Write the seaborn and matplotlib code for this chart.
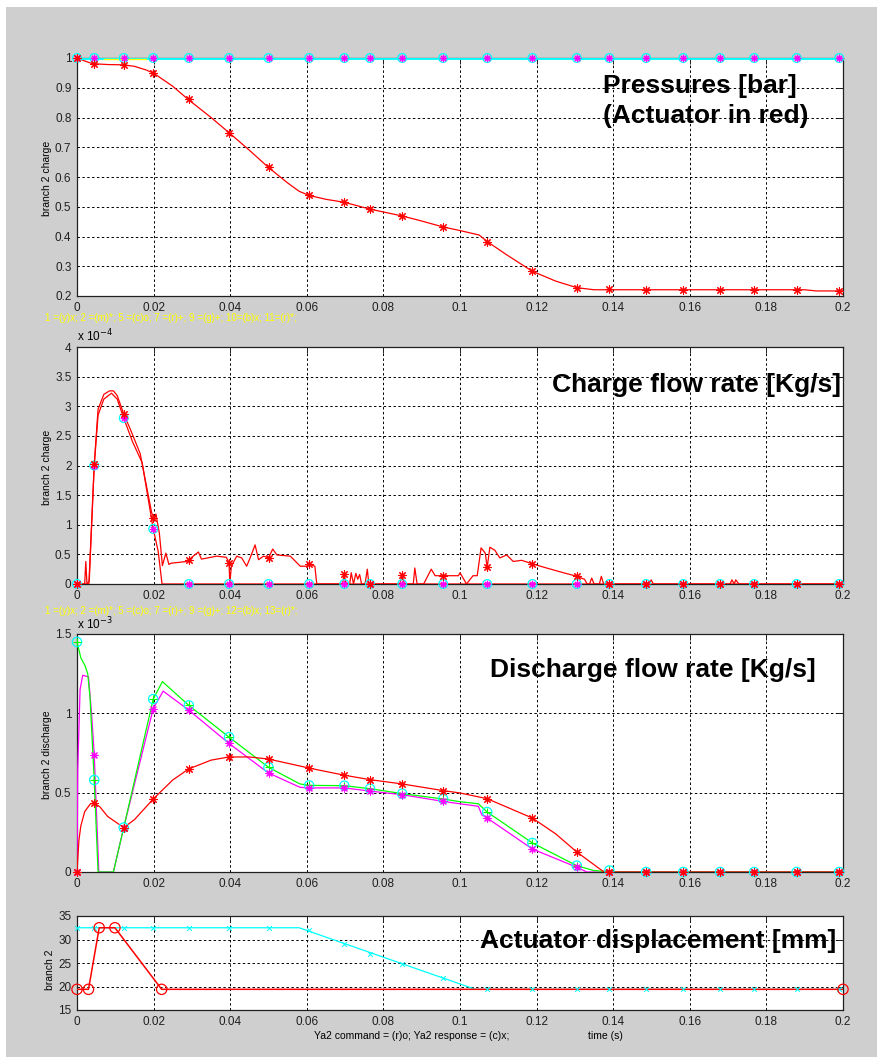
import matplotlib
matplotlib.use("Agg")
import matplotlib.pyplot as plt
from matplotlib.patches import Rectangle
import seaborn as sns

# sample instants where markers are drawn
t_mark = [0, 0.0045, 0.0122, 0.0199, 0.0292, 0.0397, 0.0500, 0.0606, 0.0698, 0.0765, 0.0849,
          0.0956, 0.1071, 0.1189, 0.1305, 0.139, 0.1486, 0.1583, 0.1679, 0.1768, 0.1879, 0.199]

# 1. pressures [bar]
p_act_t = [0, 0.002, 0.004, 0.008, 0.012, 0.015, 0.018, 0.02, 0.025, 0.029, 0.035, 0.0397, 0.045,
           0.05, 0.055, 0.058, 0.0606, 0.065, 0.0698, 0.0765, 0.0849, 0.09, 0.0956, 0.1, 0.105,
           0.1071, 0.112, 0.1189, 0.125, 0.1305, 0.135, 0.14, 0.19, 0.193, 0.2]
p_act = [1.0, 0.99, 0.981, 0.978, 0.977, 0.972, 0.96, 0.949, 0.905, 0.861, 0.8, 0.749, 0.69,
         0.632, 0.58, 0.552, 0.538, 0.525, 0.515, 0.492, 0.469, 0.452, 0.432, 0.42, 0.405,
         0.383, 0.34, 0.283, 0.25, 0.228, 0.221, 0.221, 0.221, 0.217, 0.217]
p_act_mark = [1.0, 0.98, 0.977, 0.949, 0.861, 0.749, 0.632, 0.538, 0.515, 0.492, 0.469,
              0.432, 0.383, 0.283, 0.228, 0.222, 0.221, 0.221, 0.221, 0.221, 0.221, 0.217]
p_sup_t = [0, 0.2]
p_sup = [1.0, 1.0]
p_sup_mark = [1.0] * len(t_mark)

# 2. charge flow rate [x1e-4 kg/s]
ch_a_t = [0, 0.0025, 0.0032, 0.0045, 0.0055, 0.007, 0.0085, 0.0095, 0.0105, 0.0122, 0.014, 0.0165,
          0.018, 0.0195, 0.0201, 0.0206, 0.0215, 0.0223, 0.0232, 0.024, 0.0245, 0.0286, 0.0292,
          0.0317, 0.0325, 0.0365, 0.039, 0.0397, 0.0399, 0.0403, 0.0417, 0.043, 0.0443, 0.0452,
          0.0465, 0.0474, 0.0487, 0.05, 0.0511, 0.0522, 0.0557, 0.0583, 0.06, 0.0606, 0.0621,
          0.0626, 0.0693, 0.0698, 0.0702, 0.0712, 0.0716, 0.0722, 0.0728, 0.0733, 0.0738, 0.0743,
          0.0752, 0.0758, 0.0762, 0.0843, 0.0849, 0.0855, 0.0878, 0.0882, 0.0888, 0.0905, 0.0925,
          0.0935, 0.0956, 0.0996, 0.1, 0.1017, 0.1034, 0.1045, 0.1055, 0.1066, 0.1071, 0.1078,
          0.1091, 0.1104, 0.1122, 0.1139, 0.1161, 0.1189, 0.1226, 0.127, 0.1305, 0.1325, 0.1332,
          0.1338, 0.1344, 0.135, 0.1364, 0.1369, 0.1375, 0.1495, 0.1499, 0.1505, 0.1705, 0.171,
          0.1716, 0.172, 0.1728, 0.2]
ch_a = [0, 0, 0.05, 2.02, 2.95, 3.2, 3.26, 3.26, 3.18, 2.87, 2.6, 2.2,
        1.7, 1.2, 1.12, 1.18, 0.86, 0.31, 0.52, 0.33, 0.35, 0.38, 0.41,
        0.54, 0.42, 0.47, 0.45, 0.36, 0.0, 0.3, 0.47, 0.44, 0.3, 0.44,
        0.66, 0.41, 0.47, 0.44, 0.59, 0.49, 0.47, 0.3, 0.3, 0.34, 0.3,
        0.0, 0.0, 0.17, 0.0, 0.0, 0.19, 0.0, 0.18, 0.08, 0.16, 0.0,
        0.0, 0.25, 0.0, 0.0, 0.15, 0.0, 0.0, 0.27, 0.0, 0.0, 0.25,
        0.14, 0.14, 0.14, 0.19, 0.0, 0.14, 0.14, 0.61, 0.52, 0.28, 0.62,
        0.57, 0.44, 0.49, 0.38, 0.4, 0.34, 0.27, 0.19, 0.13, 0.08, 0.0,
        0.0, 0.1, 0.0, 0.0, 0.13, 0.0, 0.0, 0.07, 0.0, 0.0, 0.07,
        0.0, 0.07, 0.0, 0.0]
ch_a_mark = [0, 2.02, 2.87, 1.12, 0.41, 0.36, 0.44, 0.34, 0.17, 0, 0.15,
             0.14, 0.28, 0.34, 0.13, 0, 0, 0, 0, 0, 0, 0]
ch_b_t = [0, 0.002, 0.0023, 0.0026, 0.0031, 0.0045, 0.0055, 0.007, 0.009, 0.0105, 0.0122, 0.0145,
          0.017, 0.0199, 0.0212, 0.0222, 0.2]
ch_b = [0, 0, 0.38, 0, 0, 2.0, 2.85, 3.12, 3.22, 3.12, 2.8, 2.4,
        2.05, 0.93, 0.55, 0.0, 0.0]
ch_b_mark = [0, 2.0, 2.8, 0.93, 0, 0, 0, 0, 0, 0, 0, 0, 0, 0, 0, 0, 0, 0, 0, 0, 0, 0]

# 3. discharge flow rate [x1e-3 kg/s]
dg_t = [0, 0.001, 0.0021, 0.0028, 0.0034, 0.0045, 0.0055, 0.0095, 0.0122, 0.0199, 0.0223, 0.0292,
        0.0397, 0.05, 0.0582, 0.0606, 0.0698, 0.0765, 0.0849, 0.0956, 0.1, 0.1048, 0.1071, 0.1189,
        0.1305, 0.1348, 0.139, 0.2]
dg = [1.45, 1.35, 1.30, 1.25, 1.1, 0.58, 0.0, 0.0, 0.28, 1.09, 1.2, 1.05,
      0.85, 0.66, 0.555, 0.546, 0.544, 0.525, 0.494, 0.46, 0.443, 0.43, 0.378, 0.183,
      0.04, 0.01, 0.0, 0.0]
dg_mark = [1.45, 0.58, 0.28, 1.09, 1.05, 0.85, 0.66, 0.546, 0.544, 0.525, 0.494,
           0.46, 0.378, 0.183, 0.04, 0.01, 0, 0, 0, 0, 0, 0]
dm_t = [0, 0.0002, 0.0008, 0.0015, 0.003, 0.0038, 0.0045, 0.0057, 0.0095, 0.0122, 0.0199, 0.0225,
        0.0292, 0.0397, 0.05, 0.0582, 0.0606, 0.0698, 0.0765, 0.0849, 0.0956, 0.1, 0.1048, 0.1057,
        0.1071, 0.1189, 0.1305, 0.1331, 0.2]
dm = [0.0, 0.65, 1.15, 1.24, 1.23, 1.0, 0.74, 0.0, 0.0, 0.28, 1.03, 1.14,
      1.02, 0.81, 0.624, 0.534, 0.53, 0.53, 0.51, 0.487, 0.445, 0.43, 0.414, 0.36,
      0.34, 0.145, 0.03, 0.0, 0.0]
dm_mark = [0, 0.74, 0.28, 1.03, 1.02, 0.81, 0.624, 0.53, 0.53, 0.51, 0.487,
           0.445, 0.34, 0.145, 0.03, 0, 0, 0, 0, 0, 0, 0]
dr_t = [0, 0.0005, 0.001, 0.002, 0.0035, 0.0045, 0.006, 0.008, 0.0122, 0.015, 0.0199, 0.025,
        0.0292, 0.035, 0.0397, 0.045, 0.05, 0.0606, 0.0698, 0.0765, 0.0849, 0.0956, 0.1, 0.1071,
        0.1189, 0.125, 0.1305, 0.1373, 0.14, 0.2]
dr = [0, 0.2, 0.29, 0.38, 0.43, 0.435, 0.41, 0.35, 0.28, 0.33, 0.46, 0.58,
      0.65, 0.705, 0.725, 0.725, 0.712, 0.655, 0.61, 0.582, 0.555, 0.513, 0.498, 0.462,
      0.34, 0.24, 0.126, 0.005, 0.0, 0.0]
dr_mark = [0, 0.435, 0.28, 0.46, 0.65, 0.725, 0.712, 0.655, 0.61, 0.582, 0.555,
           0.513, 0.462, 0.34, 0.126, 0, 0, 0, 0, 0, 0, 0]

# 4. actuator displacement [mm]
cmd_t = [0, 0.0030, 0.0058, 0.0099, 0.0221, 0.2]
cmd = [19.4, 19.4, 32.5, 32.5, 19.4, 19.4]
resp_t = [0, 0.058, 0.104, 0.2]
resp = [32.5, 32.5, 19.4, 19.4]
resp_mark = [32.5, 32.5, 32.5, 32.5, 32.5, 32.5, 32.5, 32.0, 29.0, 27.0, 24.8,
             21.8, 19.4, 19.4, 19.4, 19.4, 19.4, 19.4, 19.4, 19.4, 19.4, 19.4]

xticks = [0, 0.02, 0.04, 0.06, 0.08, 0.1, 0.12, 0.14, 0.16, 0.18, 0.2]
xticklabels = ["0", "0.02", "0.04", "0.06", "0.08", "0.1", "0.12", "0.14", "0.16", "0.18", "0.2"]

sns.set_style("white")
plt.rcParams["font.family"] = ["Liberation Sans", "DejaVu Sans"]
plt.rcParams["text.color"] = "black"

W, H = 877, 1057
fig = plt.figure(figsize=(W / 100, H / 100), dpi=100)
fig.patch.set_facecolor("white")
fig.patches.append(Rectangle((6 / W, 0), 1, 1 - 7 / H, transform=fig.transFigure,
                             facecolor="#cfcfcf", edgecolor="none", zorder=-10))


def fx(px):
    return px / W


def fy(py):
    return 1 - py / H


def make_ax(top, bottom):
    ax = fig.add_axes([fx(77), fy(bottom), (843 - 77) / W, (bottom - top) / H])
    ax.set_facecolor("white")
    for s in ax.spines.values():
        s.set_visible(True)
        s.set_color("#202020")
        s.set_linewidth(0.9)
    ax.grid(True, color="black", linestyle=(0, (2.5, 2.5)), linewidth=0.7)
    ax.set_axisbelow(True)
    ax.tick_params(direction="in", length=4, width=0.7, labelsize=8.5, colors="#202020",
                   top=True, right=True, pad=4)
    ax.set_xlim(0, 0.2)
    ax.set_xticks(xticks)
    ax.set_xticklabels(xticklabels)
    return ax


def line(ax, x, y, color, lw=0.9):
    sns.lineplot(x=x, y=y, ax=ax, color=color, lw=lw, sort=False, estimator=None, zorder=3)


def marks(ax, x, y, color, marker, s=30, lw=0.8):
    sns.scatterplot(x=x, y=y, ax=ax, color=color, marker=marker, s=s, linewidth=lw,
                    zorder=4, clip_on=False)


def rings(ax, x, y, color, s=40, lw=0.9):
    sns.scatterplot(x=x, y=y, ax=ax, marker="o", s=s, facecolor="none", edgecolor=color,
                    linewidth=lw, zorder=4, clip_on=False)


star = (8, 2, 0)
title_kw = dict(fontsize=19, fontweight="bold", ha="left", va="baseline", color="black")
small_kw = dict(fontsize=7.5, color="black")
legend_kw = dict(color="yellow", fontsize=7, ha="left", va="center")

# ---- panel 1
ax1 = make_ax(58, 296)
line(ax1, p_act_t, p_act, "red")
line(ax1, p_sup_t, p_sup, "cyan", lw=2)
line(ax1, [0.007, 0.018], [0.998, 0.998], "yellow", lw=1)
rings(ax1, t_mark, p_sup_mark, "cyan")
marks(ax1, t_mark, p_sup_mark, "magenta", star, s=22)
marks(ax1, t_mark, p_act_mark, "red", star)
ax1.set_ylim(0.2, 1)
ax1.set_yticks([0.2, 0.3, 0.4, 0.5, 0.6, 0.7, 0.8, 0.9, 1.0])
ax1.set_yticklabels(["0.2", "0.3", "0.4", "0.5", "0.6", "0.7", "0.8", "0.9", "1"])
fig.text(fx(603), fy(93), "Pressures [bar]", **title_kw)
fig.text(fx(603), fy(123), "(Actuator in red)", **title_kw)
fig.text(fx(47), fy(178), "branch 2 charge", rotation=90, ha="center", va="center", **small_kw)
fig.text(fx(45), fy(318), "1 =(y)x; 2 =(m)*; 5 =(c)o; 7 =(r)+; 9 =(g)+; 10=(b)x; 11=(r)*;", **legend_kw)

# ---- panel 2
ax2 = make_ax(347, 584)
line(ax2, ch_b_t, ch_b, "red")
line(ax2, ch_a_t, ch_a, "red")
rings(ax2, t_mark, ch_b_mark, "cyan")
marks(ax2, t_mark, ch_b_mark, "magenta", star, s=22)
marks(ax2, t_mark, ch_a_mark, "red", star)
ax2.set_ylim(0, 4)
ax2.set_yticks([0, 0.5, 1, 1.5, 2, 2.5, 3, 3.5, 4])
ax2.set_yticklabels(["0", "0.5", "1", "1.5", "2", "2.5", "3", "3.5", "4"])
fig.text(fx(552), fy(392), "Charge flow rate [Kg/s]", **title_kw)
fig.text(fx(47), fy(467), "branch 2 charge", rotation=90, ha="center", va="center", **small_kw)
fig.text(fx(77), fy(341), r"x 10$^{-4}$", fontsize=8.5, ha="left", va="baseline", color="black")

# ---- panel 3
ax3 = make_ax(634, 872)
line(ax3, dm_t, dm, "magenta")
line(ax3, dg_t, dg, "lime")
line(ax3, dr_t, dr, "red")
rings(ax3, t_mark, dg_mark, "cyan", s=45)
marks(ax3, t_mark, dg_mark, "lime", "+", s=40)
marks(ax3, t_mark, dm_mark, "magenta", star, s=26)
marks(ax3, t_mark, dr_mark, "red", star)
ax3.set_ylim(0, 1.5)
ax3.set_yticks([0, 0.5, 1, 1.5])
ax3.set_yticklabels(["0", "0.5", "1", "1.5"])
fig.text(fx(490), fy(677), "Discharge flow rate [Kg/s]", **title_kw)
fig.text(fx(47), fy(755), "branch 2 discharge", rotation=90, ha="center", va="center", **small_kw)
fig.text(fx(77), fy(629), r"x 10$^{-3}$", fontsize=8.5, ha="left", va="baseline", color="black")
fig.text(fx(45), fy(611), "1 =(y)x; 2 =(m)*; 5 =(c)o; 7 =(r)+; 9 =(g)+; 12=(b)x; 13=(r)*;", **legend_kw)

# ---- panel 4
ax4 = make_ax(916, 1010)
line(ax4, resp_t, resp, "cyan")
line(ax4, cmd_t, cmd, "red", lw=1.1)
marks(ax4, t_mark, resp_mark, "cyan", "x", s=12, lw=0.7)
rings(ax4, cmd_t, cmd, "red", s=55)
ax4.set_ylim(15, 35)
ax4.set_yticks([15, 20, 25, 30, 35])
ax4.set_yticklabels(["15", "20", "25", "30", "35"])
fig.text(fx(480), fy(948), "Actuator displacement [mm]", **title_kw)
fig.text(fx(50), fy(970), "branch 2", rotation=90, ha="center", va="center", **small_kw)
fig.text(fx(314), fy(1036), "Ya2 command = (r)o; Ya2 response = (c)x;", ha="left", va="center", **small_kw)
fig.text(fx(588), fy(1036), "time (s)", ha="left", va="center", **small_kw)

for ax in (ax1, ax2, ax3, ax4):
    ax.set_xlabel("")
    ax.set_ylabel("")

fig.savefig("out.png", dpi=100)
